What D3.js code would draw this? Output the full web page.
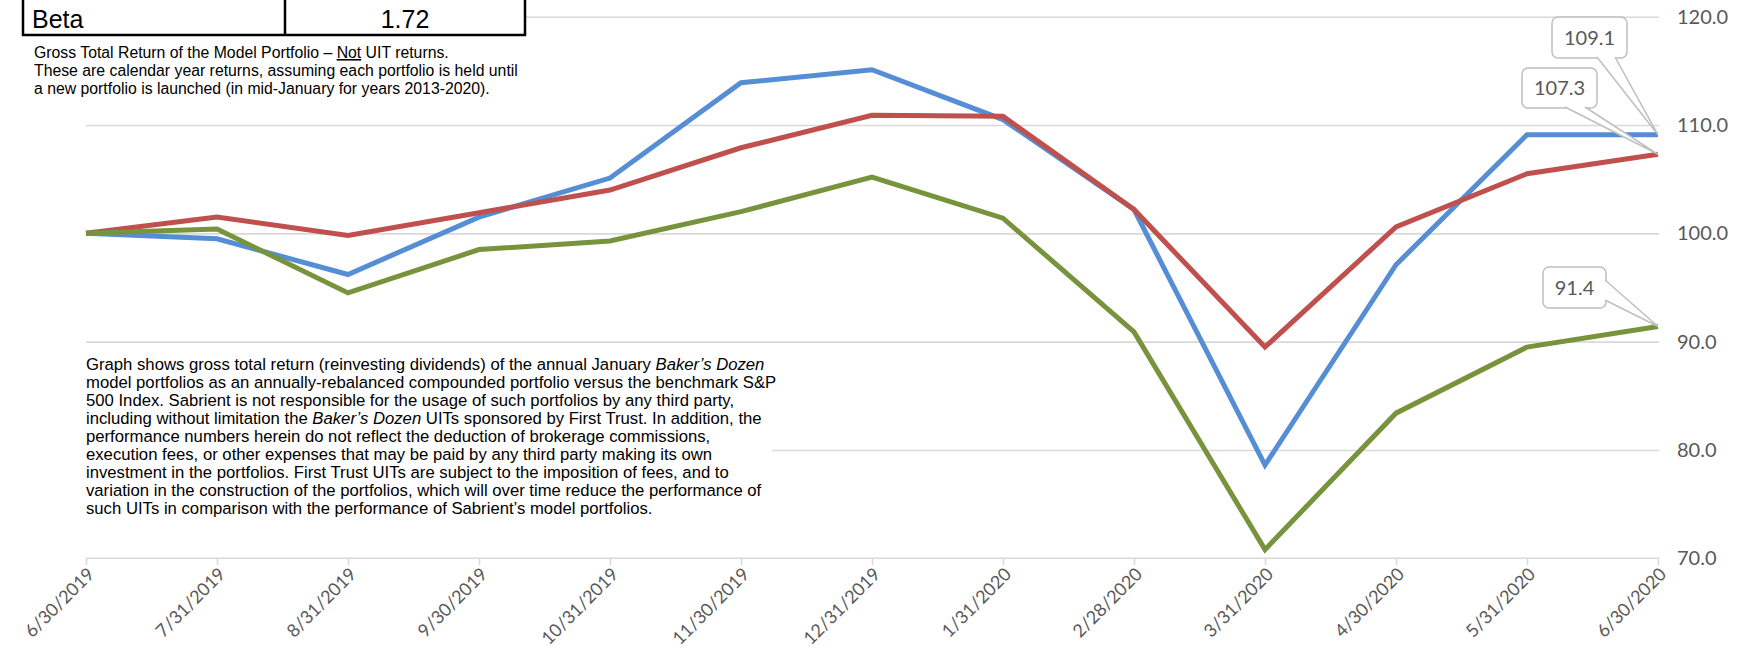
<!DOCTYPE html>
<html lang="en">
<head>
<meta charset="utf-8">
<title>Baker's Dozen model portfolio vs S&amp;P 500</title>
<script src="https://d3js.org/d3.v7.min.js"></script>
<style>
  body { margin: 0; background: #fff; }
  .note { font-family: "Liberation Sans", Arial, sans-serif; fill: #000; }
  .tick-label { font-family: Lato, "Open Sans", sans-serif; fill: #595959; }
</style>
</head>
<body>
<svg width="1752" height="667"></svg>
<script>
// data
var dates = ["6/30/2019", "7/31/2019", "8/31/2019", "9/30/2019", "10/31/2019", "11/30/2019",
             "12/31/2019", "1/31/2020", "2/28/2020", "3/31/2020", "4/30/2020", "5/31/2020", "6/30/2020"];
var bluePortfolio = [100.0, 99.5, 96.2, 101.5, 105.1, 113.9, 115.1, 110.5, 102.2, 78.6, 97.1, 109.1, 109.1];
var redPortfolio  = [100.0, 101.5, 99.8, 101.9, 104.0, 107.9, 110.9, 110.8, 102.2, 89.5, 100.6, 105.5, 107.3];
var greenPortfolio = [100.0, 100.4, 94.5, 98.5, 99.3, 102.0, 105.2, 101.4, 90.9, 70.8, 83.4, 89.5, 91.4];
var yTicks = [70, 80, 90, 100, 110, 120];
var betaRow = ["Beta", "1.72"];
var noteLines = [
  "Gross Total Return of the Model Portfolio \u2013 |Not| UIT returns.",
  "These are calendar year returns, assuming each portfolio is held until",
  "a new portfolio is launched (in mid-January for years 2013-2020)."
];
var disclaimerLines = [
  "Graph shows gross total return (reinvesting dividends) of the annual January *Baker\u2019s Dozen*",
  "model portfolios as an annually-rebalanced compounded portfolio versus the benchmark S&P",
  "500 Index. Sabrient is not responsible for the usage of such portfolios by any third party,",
  "including without limitation the *Baker\u2019s Dozen* UITs sponsored by First Trust. In addition, the",
  "performance numbers herein do not reflect the deduction of brokerage commissions,",
  "execution fees, or other expenses that may be paid by any third party making its own",
  "investment in the portfolios. First Trust UITs are subject to the imposition of fees, and to",
  "variation in the construction of the portfolios, which will over time reduce the performance of",
  "such UITs in comparison with the performance of Sabrient\u2019s model portfolios."
];

var svg = d3.select("svg");

var x = d3.scalePoint().domain(dates).range([86, 1658]);
var y = d3.scaleLinear().domain([70, 120]).range([558.3, 16.7]);

// gridlines
svg.append("g")
   .attr("transform", "translate(1659,0)")
   .call(d3.axisLeft(y).tickValues(yTicks.slice(1)).tickSize(1659 - 86).tickFormat(""))
   .call(function(g) { g.select(".domain").remove(); })
   .selectAll("line").attr("stroke", "#d9d9d9").attr("stroke-width", 1.6);

// y labels on the right
svg.append("g")
   .attr("transform", "translate(1674,0)")
   .call(d3.axisRight(y).tickValues(yTicks).tickSize(0).tickFormat(d3.format(".1f")))
   .call(function(g) { g.select(".domain").remove(); })
   .selectAll("text")
   .attr("class", "tick-label")
   .style("font-size", "20px");

// x axis
var xAxis = svg.append("g")
   .attr("transform", "translate(0," + y(70) + ")")
   .call(d3.axisBottom(x).tickSize(7).tickSizeOuter(0));
xAxis.select(".domain").attr("stroke", "#d9d9d9").attr("stroke-width", 1.6)
     .attr("d", "M" + x(dates[0]) + ",0H" + (x(dates[dates.length - 1]) + 1));
xAxis.selectAll(".tick line").attr("stroke", "#d9d9d9").attr("stroke-width", 1.6);
xAxis.selectAll(".tick text")
     .attr("class", "tick-label")
     .style("font-size", "18px")
     .attr("text-anchor", "end")
     .attr("dy", 0)
     .attr("transform", "translate(9,17) rotate(-45)")
     .attr("y", 0).attr("x", 0);

// white box behind the disclaimer
svg.append("rect").attr("x", 0).attr("y", 352).attr("width", 772).attr("height", 188).attr("fill", "#fff");
// white box behind table
svg.append("rect").attr("x", 0).attr("y", 0).attr("width", 526).attr("height", 36).attr("fill", "#fff");

// lines
var line = d3.line().x(function(d, i) { return x(dates[i]); }).y(function(d) { return y(d); });
[[bluePortfolio, "#558ED5"], [redPortfolio, "#C0504D"], [greenPortfolio, "#77933C"]].forEach(function(s) {
  svg.append("path").datum(s[0])
     .attr("fill", "none").attr("stroke", s[1]).attr("stroke-width", 5)
     .attr("stroke-linejoin", "miter").attr("d", line);
});

// callouts for last values
function callout(val, bx, by, bw, bh, pointer) {
  var px = x(dates[dates.length - 1]), py = y(val);
  var tri = "M" + pointer[0][0] + "," + pointer[0][1] + "L" + px + "," + py + "L" + pointer[1][0] + "," + pointer[1][1];
  var g = svg.append("g");
  g.append("rect").attr("x", bx).attr("y", by).attr("width", bw).attr("height", bh)
   .attr("rx", 6).attr("fill", "#fff").attr("stroke", "#bfbfbf").attr("stroke-width", 1.5);
  g.append("path").attr("d", tri + "Z").attr("fill", "#fff").attr("stroke", "none");
  g.append("path").attr("d", tri).attr("fill", "none").attr("stroke", "#bfbfbf").attr("stroke-width", 1.5);
  g.append("text").attr("class", "tick-label").style("font-size", "20px")
   .attr("x", bx + bw / 2).attr("y", by + bh / 2).attr("dy", "0.36em").attr("text-anchor", "middle")
   .text(d3.format(".1f")(val));
}
callout(bluePortfolio[12], 1552, 17, 75, 41, [[1597, 57], [1615, 57]]);
callout(redPortfolio[12], 1522, 68, 75, 40, [[1565, 107], [1585, 107]]);
callout(greenPortfolio[12], 1543, 267, 63, 41, [[1605, 280], [1605, 300]]);

// table row
var tb = svg.append("g").attr("stroke", "#000").attr("stroke-width", 2.5);
tb.append("line").attr("x1", 23).attr("y1", 0).attr("x2", 23).attr("y2", 36);
tb.append("line").attr("x1", 285).attr("y1", 0).attr("x2", 285).attr("y2", 36);
tb.append("line").attr("x1", 525).attr("y1", 0).attr("x2", 525).attr("y2", 36);
tb.append("line").attr("x1", 22).attr("y1", 35).attr("x2", 526).attr("y2", 35);
svg.append("text").attr("class", "note").style("font-size", "25px").attr("x", 32).attr("y", 28).text(betaRow[0]);
svg.append("text").attr("class", "note").style("font-size", "25px").attr("x", 405).attr("y", 28)
   .attr("text-anchor", "middle").text(betaRow[1]);

// text blocks: *x* italic, |x| underlined
function textBlock(lines, x0, y0, lh, size) {
  lines.forEach(function(l, i) {
    var t = svg.append("text").attr("class", "note").style("font-size", size + "px")
               .attr("x", x0).attr("y", y0 + i * lh);
    l.split(/(\*[^*]+\*|\|[^|]+\|)/).forEach(function(part) {
      if (!part) return;
      var ts = t.append("tspan");
      if (part[0] === "*") ts.style("font-style", "italic").text(part.slice(1, -1));
      else if (part[0] === "|") ts.style("text-decoration", "underline").text(part.slice(1, -1));
      else ts.text(part);
    });
  });
}
textBlock(noteLines, 34, 58, 18, 15.8);
textBlock(disclaimerLines, 86, 370, 18, 16.7);
</script>
</body>
</html>
